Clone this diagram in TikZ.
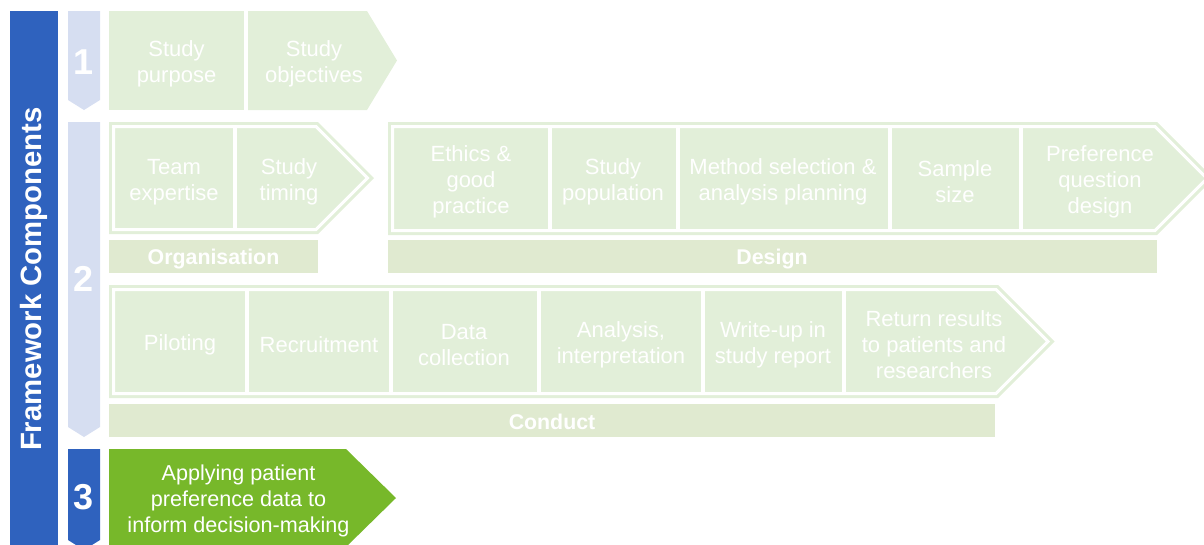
\documentclass[tikz,border=0pt]{standalone}
\usepackage{fontspec}
\setmainfont{Liberation Sans}
\definecolor{fwblue}{HTML}{2F62BE}
\definecolor{lblue}{HTML}{D6DEF1}
\definecolor{lgreen}{HTML}{E2EFD9}
\definecolor{lbar}{HTML}{E0EAD0}
\definecolor{dgreen}{HTML}{77B82A}
\tikzset{
  boxtext/.style={text=white, align=center, inner sep=0pt, yshift=-2.1pt, font=\fontsize{16.5}{19.5}\selectfont},
  bartext/.style={text=white, inner sep=0pt, yshift=-1.7pt, font=\bfseries\fontsize{16}{19}\selectfont},
  numtext/.style={text=white, inner sep=0pt, font=\bfseries\fontsize{27}{30}\selectfont},
  sep/.style={draw=white, line width=3pt},
  inset/.style={draw=white, line width=2.25pt},
}
\begin{document}
\begin{tikzpicture}[x=0.75pt,y=-0.75pt]
\useasboundingbox (0,0) rectangle (1204,544);
\clip (0,0) rectangle (1204,544);
% left bar
\fill[fwblue] (10,11) rectangle (58,560);
\node[text=white, rotate=90, inner sep=0pt, font=\bfseries\fontsize{22}{26}\selectfont] (fc) at (34,279) {Framework Components};
% number columns
\fill[lblue] (68,11) -- (100,11) -- (100,100) -- (84,110) -- (68,100) -- cycle;
\fill[lblue] (68,122) -- (100,122) -- (100,427) -- (84,437) -- (68,427) -- cycle;
\fill[fwblue] (68,449) -- (100,449) -- (100,540) -- (84,550) -- (68,540) -- cycle;
\node[numtext] (n1) at (84,62) {1};
\node[numtext] (n2) at (84,279) {2};
\node[numtext] (n3) at (84,497) {3};
% row 1
\fill[lgreen] (109,11) rectangle (244,110);
\fill[lgreen] (248,11) -- (367,11) -- (397,60.5) -- (367,110) -- (248,110) -- cycle;
\node[boxtext] (sp) at (176.5,61) {Study\\purpose};
\node[boxtext] (so) at (314,61) {Study\\objectives};
% organisation
\fill[lgreen] (109,122) -- (318,122) -- (374,178) -- (318,234) -- (109,234) -- cycle;
\draw[inset] (113.5,126.5) -- (316.1,126.5) -- (367.6,178) -- (316.1,229.5) -- (113.5,229.5) -- cycle;
\draw[sep] (235,126.5) -- (235,229.5);
\node[boxtext] (te) at (174,179) {Team\\expertise};
\node[boxtext] (st) at (289,179) {Study\\timing};
\fill[lbar] (109,240) rectangle (318,273);
\node[bartext] (org) at (213.5,256.5) {Organisation};
% design
\fill[lgreen] (388,122) -- (1157,122) -- (1213.5,178.5) -- (1157,235) -- (388,235) -- cycle;
\draw[inset] (392.5,126.5) -- (1155.1,126.5) -- (1207.1,178.5) -- (1155.1,230.5) -- (392.5,230.5) -- cycle;
\foreach \x in {549.5,678,889.5,1021} \draw[sep] (\x,126.5) -- (\x,230.5);
\node[boxtext] (eth) at (471,179) {Ethics \&\\good\\practice};
\node[boxtext] (pop) at (613,179) {Study\\population};
\node[boxtext] (msel) at (783,179) {Method selection \&\\analysis planning};
\node[boxtext] (ss) at (955,179) {Sample\\size};
\node[boxtext] (pqd) at (1100,179) {Preference\\question\\design};
\fill[lbar] (388,240) rectangle (1157,273);
\node[bartext] (des) at (772,256.5) {Design};
% conduct
\fill[lgreen] (109,285) -- (998,285) -- (1054.5,341.5) -- (998,398) -- (109,398) -- cycle;
\draw[inset] (113.5,289.5) -- (996.1,289.5) -- (1048.1,341.5) -- (996.1,393.5) -- (113.5,393.5) -- cycle;
\foreach \x in {247,391,539,703,844} \draw[sep] (\x,289.5) -- (\x,393.5);
\node[boxtext] (pil) at (180,342) {Piloting};
\node[boxtext] (rec) at (319,342) {Recruitment};
\node[boxtext] (dc) at (464,342) {Data\\collection};
\node[boxtext] (ana) at (621,342) {Analysis,\\interpretation};
\node[boxtext] (wu) at (773,342) {Write-up in\\study report};
\node[boxtext] (ret) at (934,342) {Return results\\to patients and\\researchers};
\fill[lbar] (109,404) rectangle (995,437);
\node[bartext] (con) at (552,419.5) {Conduct};
% step 3
\fill[dgreen] (109,449) -- (346,449) -- (396,498) -- (346,547) -- (109,547) -- cycle;
\node[boxtext, font=\fontsize{16.2}{19.5}\selectfont] (app) at (238.5,498) {Applying patient\\preference data to\\inform decision-making};
\end{tikzpicture}
\end{document}
